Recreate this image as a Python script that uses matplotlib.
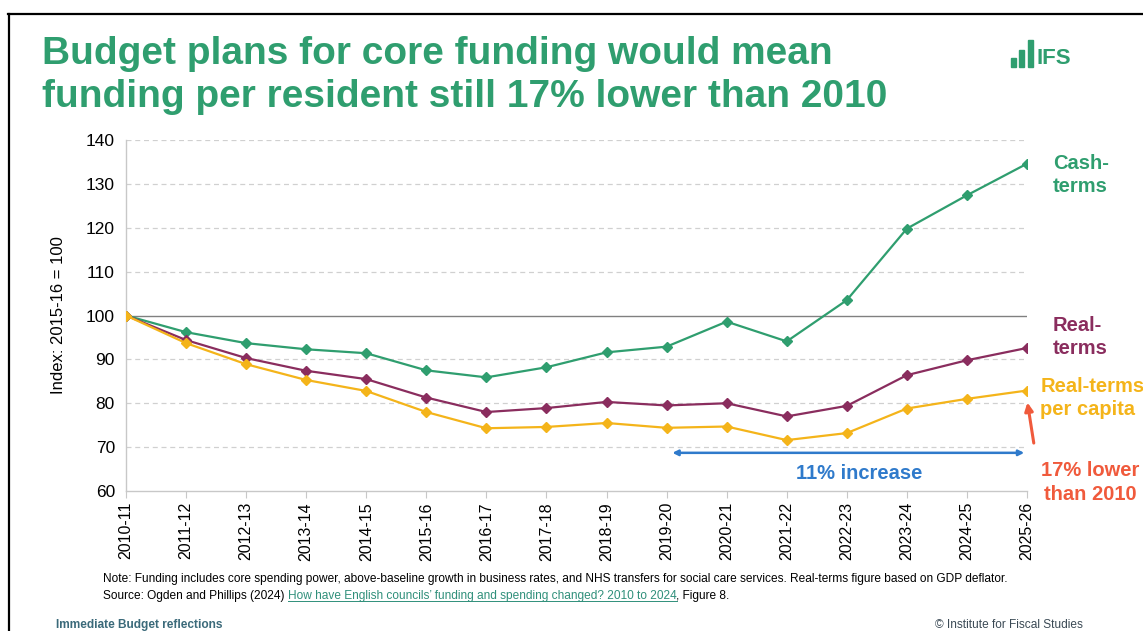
import matplotlib.pyplot as plt
from matplotlib.patches import Rectangle
from matplotlib.lines import Line2D

years = ["2010-11", "2011-12", "2012-13", "2013-14", "2014-15", "2015-16",
         "2016-17", "2017-18", "2018-19", "2019-20", "2020-21", "2021-22",
         "2022-23", "2023-24", "2024-25", "2025-26"]
cash_terms = [100, 96.2, 93.7, 92.3, 91.4, 87.5, 85.9, 88.2, 91.6, 92.9,
              98.6, 94.1, 103.5, 119.8, 127.4, 134.6]
real_terms = [100, 94.4, 90.3, 87.4, 85.5, 81.3, 78.0, 78.9, 80.3, 79.5,
              80.0, 77.0, 79.4, 86.4, 89.8, 92.6]
real_per_capita = [100, 93.7, 88.9, 85.3, 82.8, 78.0, 74.3, 74.6, 75.5, 74.4,
                   74.7, 71.6, 73.2, 78.8, 81.0, 82.9]
yticks = [60, 70, 80, 90, 100, 110, 120, 130, 140]

GREEN = "#2f9e6f"
MAROON = "#8a2d5e"
YELLOW = "#f4b41a"
BLUE = "#2f7acb"
RED = "#f05a3c"

plt.rcParams["font.family"] = ["Liberation Sans", "DejaVu Sans"]

fig = plt.figure(figsize=(11.43, 6.31), dpi=100)
W, H = 1143, 631

# page border
fig.add_artist(Line2D([8 / W, 1], [1 - 13.5 / H, 1 - 13.5 / H], color="black", lw=1.6))
fig.add_artist(Line2D([8.5 / W, 8.5 / W], [0, 1 - 13.5 / H], color="black", lw=1.6))

ax = fig.add_axes([126 / W, 1 - 491 / H, (1027 - 126) / W, (491 - 140) / H])
x = list(range(len(years)))

for y in yticks:
    if y == 100:
        ax.axhline(y, color="#808080", lw=1.0, zorder=1)
    elif y != 60:
        ax.axhline(y, color="#d0d0d0", lw=0.9, ls=(0, (4, 3)), zorder=1)

ax.plot(x, cash_terms, color=GREEN, lw=1.6, marker="D", ms=5, zorder=3)
ax.plot(x, real_terms, color=MAROON, lw=1.6, marker="D", ms=5, zorder=3)
ax.plot(x, real_per_capita, color=YELLOW, lw=1.6, marker="D", ms=5, zorder=3)

ax.set_xlim(0, 15)
ax.set_ylim(60, 140)
ax.set_yticks(yticks)
ax.set_xticks(x)
ax.set_xticklabels(years, rotation=90, fontsize=11.5)
ax.tick_params(axis="y", length=0, labelsize=12.5, pad=8)
ax.tick_params(axis="x", length=5, color="#c8c8c8", labelsize=11.5, pad=3)
for s in ["top", "right"]:
    ax.spines[s].set_visible(False)
for s in ["left", "bottom"]:
    ax.spines[s].set_color("#c8c8c8")
    ax.spines[s].set_linewidth(1.0)
ax.set_ylabel("Index: 2015-16 = 100", fontsize=12, labelpad=14)

# series labels
lab = dict(fontsize=14.5, fontweight="bold", va="center", linespacing=1.3, clip_on=False)
ax.text(15.43, 132.0, "Cash-\nterms", color=GREEN, ha="left", **lab)
ax.text(15.43, 95.1, "Real-\nterms", color=MAROON, ha="left", **lab)
ax.text(15.22, 81.2, "Real-terms\nper capita", color=YELLOW, ha="left", **lab)
ax.text(16.05, 61.9, "17% lower\nthan 2010", color=RED, ha="center", **lab)

ax.annotate("", xy=(15.0, 80.8), xytext=(15.12, 70.3),
            arrowprops=dict(arrowstyle="-|>", color=RED, lw=2.2, mutation_scale=12),
            annotation_clip=False)
ax.annotate("", xy=(9.05, 68.7), xytext=(15.0, 68.7),
            arrowprops=dict(arrowstyle="<|-|>", color=BLUE, lw=1.8, mutation_scale=8),
            annotation_clip=False)
ax.text(12.2, 64.0, "11% increase", color=BLUE, fontsize=14.5, fontweight="bold",
        ha="center", va="center")

# title
fig.text(42 / W, 1 - 54 / H, "Budget plans for core funding would mean", color=GREEN,
         fontsize=28, fontweight="bold", va="center", ha="left")
fig.text(42 / W, 1 - 97 / H, "funding per resident still 17% lower than 2010", color=GREEN,
         fontsize=28, fontweight="bold", va="center", ha="left")

# logo
bars = [(1011, 58, 5, 9), (1019, 50, 5, 17), (1028, 40, 5, 27)]
for bx, by, bw, bh in bars:
    fig.add_artist(Rectangle((bx / W, 1 - (by + bh) / H), bw / W, bh / H,
                             color=GREEN, transform=fig.transFigure))
fig.text(1036 / W, 1 - 58 / H, "IFS", color=GREEN, fontsize=16, fontweight="bold",
         va="center", ha="left")

# notes
fig.text(103 / W, 1 - 579 / H,
         "Note: Funding includes core spending power, above-baseline growth in business rates, "
         "and NHS transfers for social care services. Real-terms figure based on GDP deflator.",
         fontsize=8.6, va="center", ha="left")
src = fig.text(103 / W, 1 - 596 / H, "Source: Ogden and Phillips (2024) ", fontsize=8.6,
               va="center", ha="left")
fig.canvas.draw()
bb = src.get_window_extent()
link = fig.text(bb.x1 / W, 1 - 596 / H,
                "How have English councils\u2019 funding and spending changed? 2010 to 2024",
                fontsize=8.6, va="center", ha="left", color="#2f8f7a")
fig.canvas.draw()
lb = link.get_window_extent()
fig.add_artist(Line2D([lb.x0 / W, lb.x1 / W], [(lb.y0 + 1) / H, (lb.y0 + 1) / H],
                      color="#2f8f7a", lw=0.7))
fig.text(lb.x1 / W, 1 - 596 / H, ", Figure 8.", fontsize=8.6, va="center", ha="left")

fig.text(56 / W, 1 - 625 / H, "Immediate Budget reflections", fontsize=8.6,
         fontweight="bold", color="#3b6a7a", va="center", ha="left")
fig.text(1083 / W, 1 - 625 / H, "\u00a9 Institute for Fiscal Studies", fontsize=8.6,
         color="#3b4a55", va="center", ha="right")

fig.savefig("out.png", dpi=100)
